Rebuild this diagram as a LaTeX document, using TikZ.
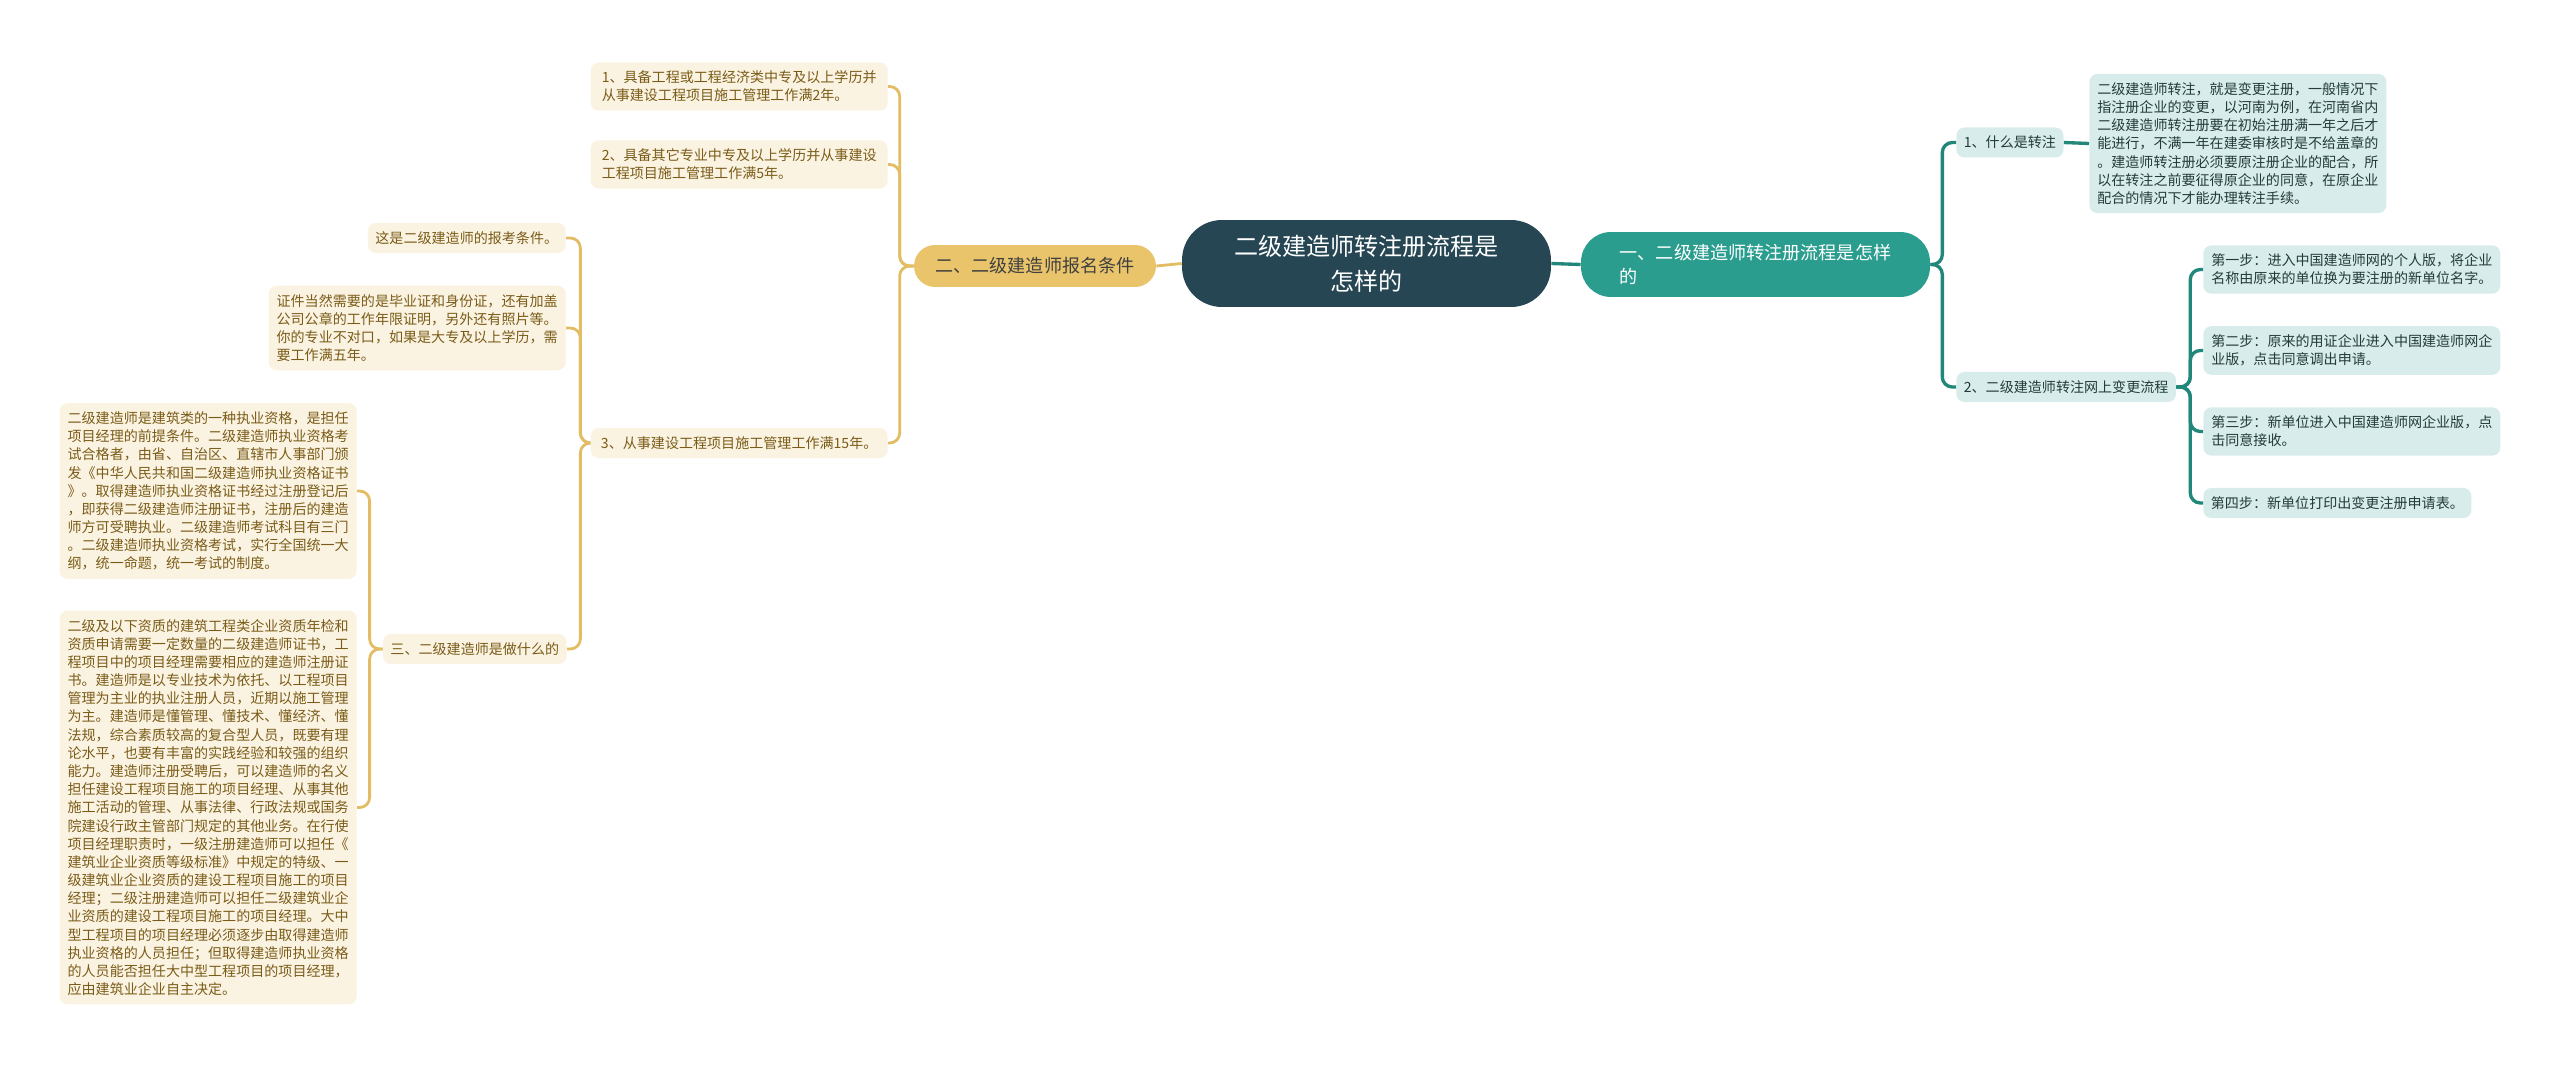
\documentclass[tikz,border=0pt]{standalone}
\usepackage{fontspec}
\setmainfont{Noto Sans CJK SC}
\usetikzlibrary{positioning}
\definecolor{rootcol}{HTML}{264653}
\definecolor{tealcol}{HTML}{2A9D8F}
\definecolor{goldcol}{HTML}{E9C46A}
\definecolor{goldline}{HTML}{E2BD63}
\definecolor{tealline}{HTML}{22877B}
\definecolor{goldfill}{HTML}{FBF3E2}
\definecolor{tealfill}{HTML}{D8EDEB}
\definecolor{goldtext}{HTML}{7A5C18}
\definecolor{tealtext}{HTML}{223B3A}
\tikzstyle{rootbox} = [fill=rootcol, text=white, rounded corners=0.8cm, minimum width=7.38cm, minimum height=1.74cm, align=center, font=\fontsize{13.7pt}{20pt}\selectfont]
\tikzstyle{goldbranch} = [fill=goldcol, text=black!75, rounded corners=0.42cm, minimum width=4.84cm, minimum height=0.84cm, font=\fontsize{10.3pt}{14pt}\selectfont]
\tikzstyle{tealbranch} = [fill=tealcol, text=white, rounded corners=0.6cm, minimum width=6.98cm, minimum height=1.3cm, align=left, font=\fontsize{10.3pt}{14pt}\selectfont]
\tikzstyle{goldbox} = [fill=goldfill, text=goldtext, rounded corners=0.16cm, inner xsep=0.15cm, inner ysep=0.17cm, align=left, font=\fontsize{8pt}{10.35pt}\selectfont]
\tikzstyle{tealbox} = [fill=tealfill, text=tealtext, rounded corners=0.16cm, inner xsep=0.15cm, inner ysep=0.17cm, align=left, font=\fontsize{8pt}{10.35pt}\selectfont]
\tikzstyle{widebox} = [minimum width=5.94cm]
\tikzstyle{goldlink} = [draw=goldline, line width=1.6pt, rounded corners=0.2cm]
\tikzstyle{teallink} = [draw=tealline, line width=1.9pt, rounded corners=0.2cm]

\begin{document}
\begin{tikzpicture}[x=0.02cm, y=-0.02cm]
        \useasboundingbox (0,0) rectangle (2560,1067);

        \node[rootbox] (root) at (1366.5,263.5) {二级建造师转注册流程是\\怎样的};
        \node[goldbranch] (reg) at (1035,266) {二、二级建造师报名条件};
        \node[tealbranch] (flow) at (1755.5,264.5) {一、二级建造师转注册流程是怎样\\的};

        \node[goldbox, widebox, anchor=east] (cond1) at (888,86.5) {1、具备工程或工程经济类中专及以上学历并\\从事建设工程项目施工管理工作满2年。};
        \node[goldbox, widebox, anchor=east] (cond2) at (888,164.5) {2、具备其它专业中专及以上学历并从事建设\\工程项目施工管理工作满5年。};
        \node[goldbox, widebox, anchor=east] (cond3) at (888,443) {3、从事建设工程项目施工管理工作满15年。};

        \node[goldbox, anchor=east] (note) at (566,238) {这是二级建造师的报考条件。};
        \node[goldbox, widebox, anchor=east] (papers) at (566,328) {证件当然需要的是毕业证和身份证，还有加盖\\公司公章的工作年限证明，另外还有照片等。\\你的专业不对口，如果是大专及以上学历，需\\要工作满五年。};
        \node[goldbox, anchor=east] (duty) at (567,649) {三、二级建造师是做什么的};

        \node[goldbox, widebox, anchor=east] (duty1) at (357,491) {二级建造师是建筑类的一种执业资格，是担任\\项目经理的前提条件。二级建造师执业资格考\\试合格者，由省、自治区、直辖市人事部门颁\\发《中华人民共和国二级建造师执业资格证书\\》。取得建造师执业资格证书经过注册登记后\\，即获得二级建造师注册证书，注册后的建造\\师方可受聘执业。二级建造师考试科目有三门\\。二级建造师执业资格考试，实行全国统一大\\纲，统一命题，统一考试的制度。};
        \node[goldbox, widebox, anchor=east] (duty2) at (357,807.5) {二级及以下资质的建筑工程类企业资质年检和\\资质申请需要一定数量的二级建造师证书，工\\程项目中的项目经理需要相应的建造师注册证\\书。建造师是以专业技术为依托、以工程项目\\管理为主业的执业注册人员，近期以施工管理\\为主。建造师是懂管理、懂技术、懂经济、懂\\法规，综合素质较高的复合型人员，既要有理\\论水平，也要有丰富的实践经验和较强的组织\\能力。建造师注册受聘后，可以建造师的名义\\担任建设工程项目施工的项目经理、从事其他\\施工活动的管理、从事法律、行政法规或国务\\院建设行政主管部门规定的其他业务。在行使\\项目经理职责时，一级注册建造师可以担任《\\建筑业企业资质等级标准》中规定的特级、一\\级建筑业企业资质的建设工程项目施工的项目\\经理；二级注册建造师可以担任二级建筑业企\\业资质的建设工程项目施工的项目经理。大中\\型工程项目的项目经理必须逐步由取得建造师\\执业资格的人员担任；但取得建造师执业资格\\的人员能否担任大中型工程项目的项目经理，\\应由建筑业企业自主决定。};

        \node[tealbox, anchor=west] (what) at (1956,142.5) {1、什么是转注};
        \node[tealbox, widebox, anchor=west] (whattext) at (2089,143.5) {二级建造师转注，就是变更注册，一般情况下\\指注册企业的变更，以河南为例，在河南省内\\二级建造师转注册要在初始注册满一年之后才\\能进行，不满一年在建委审核时是不给盖章的\\。建造师转注册必须要原注册企业的配合，所\\以在转注之前要征得原企业的同意，在原企业\\配合的情况下才能办理转注手续。};
        \node[tealbox, anchor=west] (online) at (1956,387) {2、二级建造师转注网上变更流程};

        \node[tealbox, widebox, anchor=west] (step1) at (2203,269.5) {第一步：进入中国建造师网的个人版，将企业\\名称由原来的单位换为要注册的新单位名字。};
        \node[tealbox, widebox, anchor=west] (step2) at (2203,350.5) {第二步：原来的用证企业进入中国建造师网企\\业版，点击同意调出申请。};
        \node[tealbox, widebox, anchor=west] (step3) at (2203,431.5) {第三步：新单位进入中国建造师网企业版，点\\击同意接收。};
        \node[tealbox, anchor=west] (step4) at (2203,503) {第四步：新单位打印出变更注册申请表。};

        \draw[goldlink] (root.west) -- (reg.east);
        \draw[teallink] (root.east) -- (flow.west);

        \foreach \kid in {cond1, cond2, cond3}
            \draw[goldlink] (reg.west) -- ++(-14,0) |- (\kid.east);
        \foreach \kid in {note, papers, duty}
            \draw[goldlink] (cond3.west) -- ++(-10,0) |- (\kid.east);
        \foreach \kid in {duty1, duty2}
            \draw[goldlink] (duty.west) -- ++(-13,0) |- (\kid.east);

        \foreach \kid in {what, online}
            \draw[teallink] (flow.east) -- ++(12,0) |- (\kid.west);
        \draw[teallink] (what.east) -- (whattext.west);
        \foreach \kid in {step1, step2, step3, step4}
            \draw[teallink] (online.east) -- ++(14,0) |- (\kid.west);

    \end{tikzpicture}
\end{document}
